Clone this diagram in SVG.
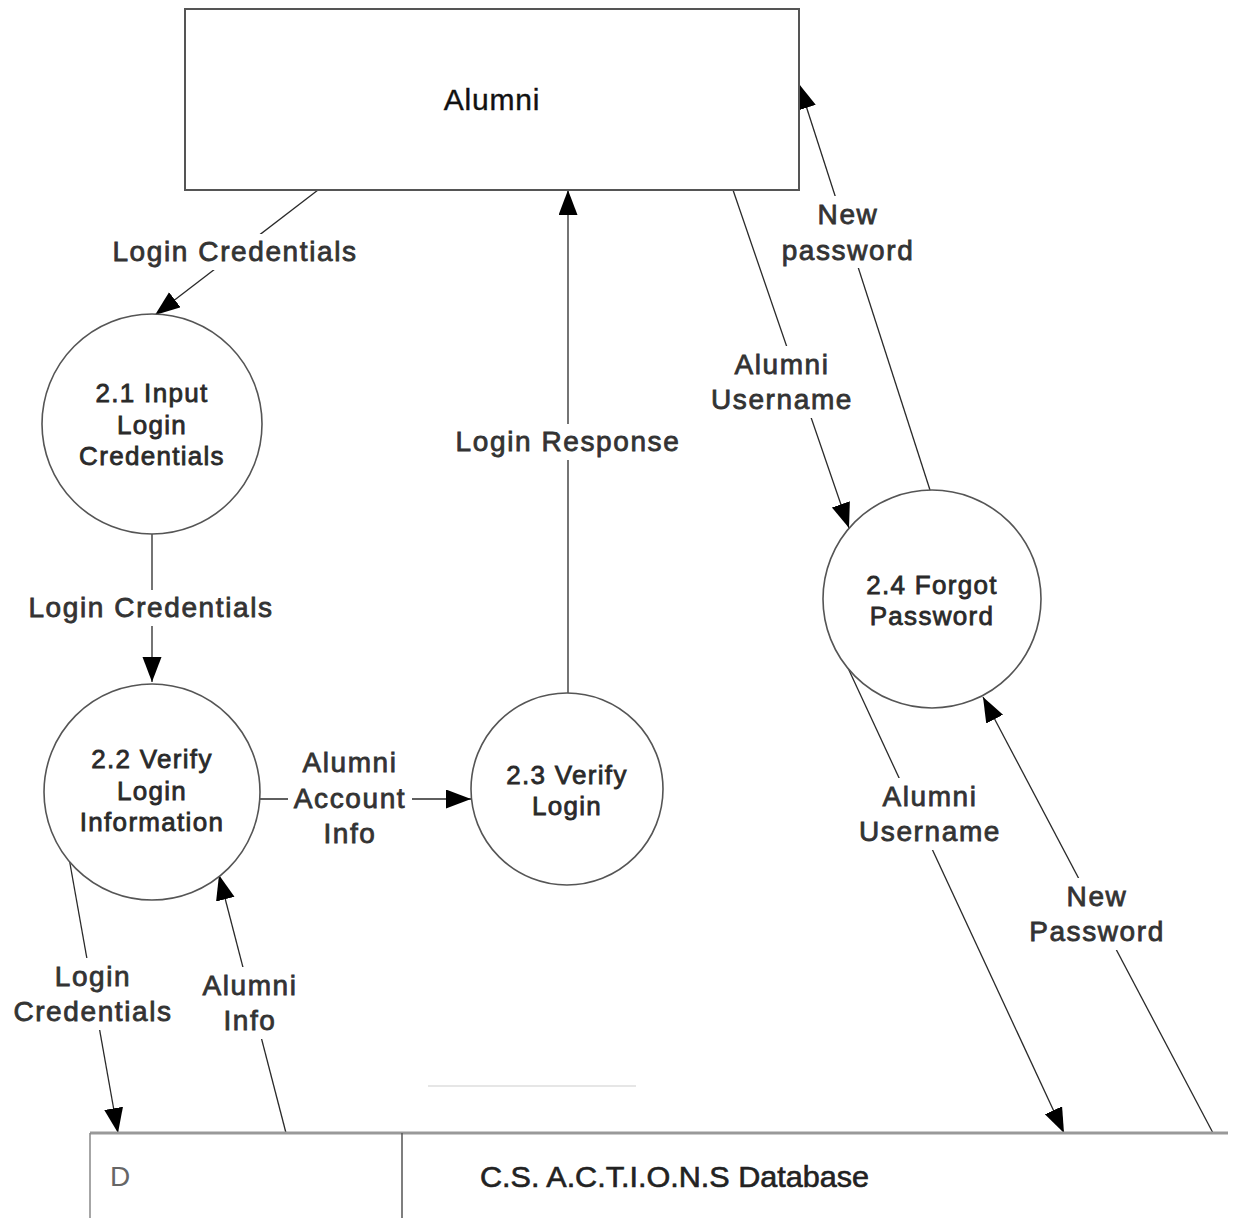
<svg xmlns="http://www.w3.org/2000/svg" width="1239" height="1218" viewBox="0 0 1239 1218">
<defs>
<style>
.edge{stroke:#2a2a2a;stroke-width:1.3;fill:none}
.arr{marker-end:url(#ah)}
.node{fill:#fff;stroke:#555;stroke-width:1.6}
.lbl{font-family:"Liberation Sans",Arial,sans-serif;font-size:28px;letter-spacing:1.6px;fill:#333;stroke:#333;stroke-width:0.8;text-anchor:middle}
.nl{font-family:"Liberation Sans",Arial,sans-serif;font-size:26px;letter-spacing:1.3px;fill:#2a2a2a;stroke:#2a2a2a;stroke-width:0.8;text-anchor:middle}
.bg{fill:#fff;stroke:none}
</style>
<marker id="ah" markerUnits="userSpaceOnUse" markerWidth="26" markerHeight="20" refX="25" refY="9.5" orient="auto">
<path d="M0,0 L25,9.5 L0,19 z" fill="#000"/>
</marker>
</defs>
<rect width="1239" height="1218" fill="#fff"/>

<g id="connectors">
<line class="edge arr" x1="318" y1="190" x2="155" y2="315"/>
<line class="edge arr" x1="152" y1="534" x2="152" y2="682"/>
<line class="edge arr" x1="260" y1="799" x2="471" y2="799"/>
<line class="edge arr" x1="568" y1="693" x2="568" y2="190"/>
<line class="edge arr" x1="733" y1="190" x2="849" y2="528"/>
<line class="edge arr" x1="930" y1="490" x2="799" y2="84"/>
<line class="edge arr" x1="848" y1="668" x2="1064" y2="1133"/>
<line class="edge arr" x1="1213" y1="1133" x2="983" y2="697"/>
<line class="edge arr" x1="69" y1="858" x2="118" y2="1133"/>
<line class="edge arr" x1="286" y1="1133" x2="219" y2="875"/>
</g>

<g id="edge-labels">
<rect class="bg" x="106" y="234" width="258" height="36"/>
<text class="lbl" x="235" y="261">Login Credentials</text>
<rect class="bg" x="24" y="590" width="258" height="36"/>
<text class="lbl" x="151" y="617">Login Credentials</text>
<rect class="bg" x="288" y="744" width="124" height="106"/>
<text class="lbl" x="350" y="772">Alumni</text>
<text class="lbl" x="350" y="808">Account</text>
<text class="lbl" x="350" y="843">Info</text>
<rect class="bg" x="450" y="424" width="236" height="36"/>
<text class="lbl" x="568" y="451">Login Response</text>
<rect class="bg" x="706" y="346" width="152" height="72"/>
<text class="lbl" x="782" y="374">Alumni</text>
<text class="lbl" x="782" y="409">Username</text>
<rect class="bg" x="778" y="196" width="140" height="72"/>
<text class="lbl" x="848" y="224">New</text>
<text class="lbl" x="848" y="260">password</text>
<rect class="bg" x="854" y="778" width="152" height="72"/>
<text class="lbl" x="930" y="806">Alumni</text>
<text class="lbl" x="930" y="841">Username</text>
<rect class="bg" x="1026" y="878" width="142" height="72"/>
<text class="lbl" x="1097" y="906">New</text>
<text class="lbl" x="1097" y="941">Password</text>
<rect class="bg" x="10" y="958" width="166" height="72"/>
<text class="lbl" x="93" y="986">Login</text>
<text class="lbl" x="93" y="1021">Credentials</text>
<rect class="bg" x="196" y="967" width="108" height="72"/>
<text class="lbl" x="250" y="995">Alumni</text>
<text class="lbl" x="250" y="1030">Info</text>
</g>

<g id="alumni">
<rect x="185" y="9" width="614" height="181" fill="#fff" stroke="#555" stroke-width="2"/>
<text x="492" y="110" font-family="'Liberation Sans',Arial,sans-serif" font-size="30" letter-spacing="0.8" fill="#111" stroke="#111" stroke-width="0.4" text-anchor="middle">Alumni</text>
</g>

<g id="p2-1">
<circle class="node" cx="152" cy="424" r="110"/>
<text class="nl" x="152" y="402">2.1 Input</text>
<text class="nl" x="152" y="434">Login</text>
<text class="nl" x="152" y="465">Credentials</text>
</g>

<g id="p2-2">
<circle class="node" cx="152" cy="792" r="108"/>
<text class="nl" x="152" y="768">2.2 Verify</text>
<text class="nl" x="152" y="800">Login</text>
<text class="nl" x="152" y="831">Information</text>
</g>

<g id="p2-3">
<circle class="node" cx="567" cy="789" r="96"/>
<text class="nl" x="567" y="784">2.3 Verify</text>
<text class="nl" x="567" y="815">Login</text>
</g>

<g id="p2-4">
<circle class="node" cx="932" cy="599" r="109"/>
<text class="nl" x="932" y="594">2.4 Forgot</text>
<text class="nl" x="932" y="625">Password</text>
</g>

<g id="datastore">
<line x1="428" y1="1086" x2="636" y2="1086" stroke="#e6e6e6" stroke-width="2"/>
<line x1="90" y1="1133" x2="1228" y2="1133" stroke="#999" stroke-width="3"/>
<line x1="90" y1="1133" x2="90" y2="1218" stroke="#888" stroke-width="1.5"/>
<line x1="402" y1="1133" x2="402" y2="1218" stroke="#555" stroke-width="1.5"/>
<text x="110" y="1186" font-family="'Liberation Sans',Arial,sans-serif" font-size="28" fill="#666">D</text>
<text x="480" y="1187" font-family="'Liberation Sans',Arial,sans-serif" font-size="29" fill="#222" stroke="#222" stroke-width="0.6" textLength="389" lengthAdjust="spacingAndGlyphs">C.S. A.C.T.I.O.N.S Database</text>
</g>
</svg>
